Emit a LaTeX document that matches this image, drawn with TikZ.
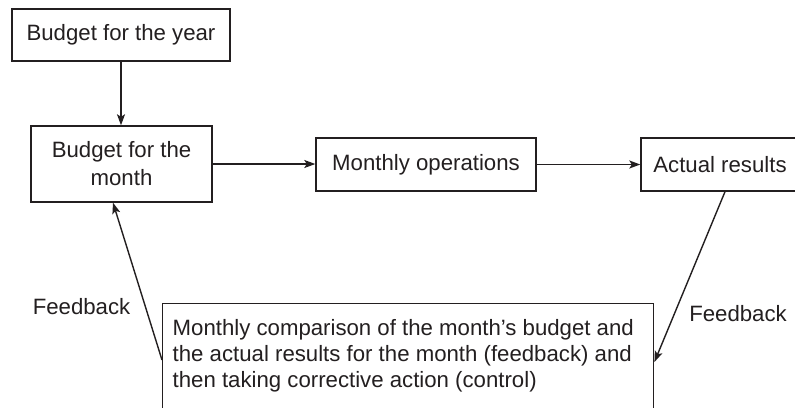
\documentclass[tikz,border=0pt]{standalone}
\usepackage{fontspec}
\setmainfont{Liberation Sans}
\usetikzlibrary{arrows.meta,calc}
\definecolor{ink}{HTML}{231F20}
\begin{document}
\begin{tikzpicture}[x=1pt,y=-1pt,
  every node/.style={text=ink,font=\fontsize{22.2}{26}\selectfont},
  box/.style={draw=ink,line width=1.4pt,inner sep=0pt},
  arr/.style={draw=ink,line width=1.4pt,-{Stealth[length=11pt,width=8pt,inset=2.5pt]}},
  lbl/.style={inner sep=0pt}]
\useasboundingbox (0,0) rectangle (795,407);
\fill[white] (0,0) rectangle (795,407);
\begin{scope}
  \clip (0,0) rectangle (795,407);
  % boxes
  \node[box,minimum width=218pt,minimum height=52pt] (year) at (121,35) {Budget for the year};
  \node[box,minimum width=181pt,minimum height=76pt,align=center,
        font=\fontsize{22.2}{28}\selectfont] (month) at (121.5,164) {Budget for the\\month};
  \node[box,minimum width=220pt,minimum height=53pt] (ops) at (426,164.5) {Monthly operations};
  \node[box,minimum width=158pt,minimum height=53pt] (actual) at (720,164.5) {Actual results};
  \node[box,anchor=north west,inner xsep=10pt,inner ysep=14pt] (cmp) at (162,303)
    {\parbox[t][120pt][t]{471pt}{\raggedright\strut Monthly comparison of the month’s budget and\\
      the actual results for the month (feedback) and\\
      then taking corrective action (control)}};
  % connectors
  \draw[arr] (year.south) -- (year.south |- month.north);
  \draw[arr] (month.east) -- (month.east -| ops.west);
  \draw[arr] (ops.east) -- (actual.west);
  \draw[arr] ([xshift=5pt]actual.south) -- ([yshift=-59pt]cmp.north east);
  \draw[arr] ([yshift=-57pt]cmp.north west) -- ([xshift=-8.5pt]month.south);
  % labels
  \node[lbl] (fbl) at (81.5,307) {Feedback};
  \node[lbl] (fbr) at (738,313.5) {Feedback};
\end{scope}
\end{tikzpicture}
\end{document}
